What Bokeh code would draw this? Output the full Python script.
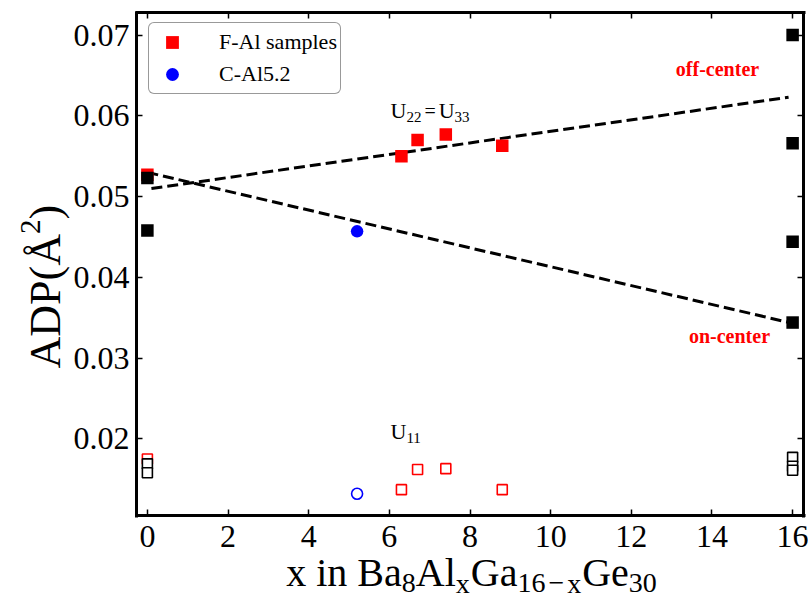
import math
from bokeh.plotting import figure
from bokeh.models import Range1d, LinearAxis, Label, Legend, LegendItem, FixedTicker
from bokeh.embed import file_html
from bokeh.resources import INLINE

# ---------------- data ----------------
fal_x = [0.0, 6.3, 6.7, 7.4, 8.8]
fal_u22 = [0.0527, 0.0550, 0.0570, 0.0577, 0.0563]
fal_u11 = [0.0175, 0.0137, 0.0162, 0.0163, 0.0137]

cal_x = [5.2]
cal_u22 = [0.0457]
cal_u11 = [0.0132]

ref_x = [0.0, 0.0, 16.0, 16.0, 16.0, 16.0]
ref_u22 = [0.0523, 0.0458, 0.0700, 0.0566, 0.0444, 0.0344]
ref_u11_x = [0.0, 0.0, 16.0, 16.0, 16.0]
ref_u11 = [0.0169, 0.0158, 0.0177, 0.0166, 0.0161]

off_fit_x = [0.1, 15.9]
off_fit_y = [0.0510, 0.0623]
on_fit_x = [0.0, 16.0]
on_fit_y = [0.0530, 0.0343]

x_ticks = [0, 2, 4, 6, 8, 10, 12, 14, 16]
y_ticks = [0.02, 0.03, 0.04, 0.05, 0.06, 0.07]
y_tick_labels = {0.02: "0.02", 0.03: "0.03", 0.04: "0.04",
                 0.05: "0.05", 0.06: "0.06", 0.07: "0.07"}

# ---------------- layout ----------------
W, H = 808, 599
FL, FR, FT, FB = 136, 803, 12, 515          # visible box in pixels
XR0, XR1 = -0.27, 16.27                      # visible box in data
YR0, YR1 = 0.0105, 0.0728
FONT = "Liberation Serif"

dxp = (XR1 - XR0) / (FR - FL)
dyp = (YR1 - YR0) / (FB - FT)
XF0, XF1 = XR0 - FL * dxp, XR1 + (W - FR) * dxp
YF0, YF1 = YR0 - (H - FB) * dyp, YR1 + FT * dyp

p = figure(width=W, height=H, output_backend="svg", toolbar_location=None,
           x_range=Range1d(XF0, XF1), y_range=Range1d(YF0, YF1),
           x_axis_location=None, y_axis_location=None,
           min_border=0, min_border_left=0, min_border_right=0,
           min_border_top=0, min_border_bottom=0)
p.grid.visible = False
p.outline_line_color = None
p.background_fill_color = "white"
p.border_fill_color = "white"

xb = (XR0 - 1.5 * dxp, XR1 + 1.5 * dxp)
yb = (YR0 - 1.5 * dyp, YR1 + 1.5 * dyp)

def make_axis(ticks, loc, bounds, labels=True, overrides=None):
    ax = LinearAxis(fixed_location=loc, bounds=bounds)
    ax.ticker = FixedTicker(ticks=ticks)
    ax.axis_line_width = 3
    ax.axis_line_color = "black"
    ax.major_tick_in = 6
    ax.major_tick_out = 0
    ax.major_tick_line_width = 1.5
    ax.minor_tick_in = 0
    ax.minor_tick_out = 0
    ax.major_label_text_font = FONT
    ax.major_label_text_color = "black"
    ax.major_label_text_font_size = "32px"
    if labels:
        if overrides:
            ax.major_label_overrides = overrides
    else:
        ax.major_label_overrides = {t: "" for t in ticks}
    return ax

bottom = make_axis(x_ticks, YR0, xb)
bottom.major_label_standoff = 10
p.add_layout(bottom, "below")
left = make_axis(y_ticks, XR0, yb, overrides=y_tick_labels)
left.major_label_standoff = 7
p.add_layout(left, "left")
p.add_layout(make_axis(x_ticks, YR1, xb, labels=False), "above")
p.add_layout(make_axis(y_ticks, XR1, yb, labels=False), "right")

# ---------------- fit lines ----------------
p.line(off_fit_x, off_fit_y, line_color="black", line_width=3, line_dash="11 5")
p.line(on_fit_x, on_fit_y, line_color="black", line_width=3, line_dash="11 5")

# ---------------- markers ----------------
p.scatter(fal_x, fal_u11, marker="square", size=10, fill_color=None,
          line_color="red", line_width=1.6)
p.scatter(ref_u11_x, ref_u11, marker="square", size=10, fill_color="white",
          line_color="black", line_width=1.6)
p.scatter(cal_x, cal_u11, marker="circle", size=11, fill_color=None,
          line_color="blue", line_width=1.6)

r_fal = p.scatter(fal_x, fal_u22, marker="square", size=12.5, fill_color="red",
                  line_color=None)
p.scatter(ref_x, ref_u22, marker="square", size=12.5, fill_color="black",
          line_color=None)
r_cal = p.scatter(cal_x, cal_u22, marker="circle", size=12.5, fill_color="blue",
                  line_color=None)

legend = Legend(items=[LegendItem(label="F-Al samples", renderers=[r_fal]),
                       LegendItem(label="C-Al5.2", renderers=[r_cal])],
                location=(FL + 12, H - FT - 12 - 70), margin=0, padding=3, spacing=0,
                glyph_width=40, glyph_height=32, label_height=32,
                label_standoff=27,
                label_text_font=FONT, label_text_font_size="22px",
                label_text_color="black",
                border_line_color="#333333", border_line_width=1.5,
                background_fill_color="white", background_fill_alpha=1.0)
try:
    legend.border_radius = 6
except Exception:
    pass
p.add_layout(legend)

# ---------------- text helpers ----------------
CW = {'x': 0.5, ' ': 0.25, 'i': 0.278, 'n': 0.5, 'B': 0.667, 'a': 0.444,
      'A': 0.722, 'l': 0.278, 'G': 0.722, 'e': 0.444, '−': 0.564, 'U': 0.722,
      '=': 0.564, 'D': 0.722, 'P': 0.556, '(': 0.333, ')': 0.333, 'Å': 0.722}
MID = 0.33   # distance from alphabetic baseline to the em-box middle, in em

def tw(s, size):
    return sum(CW.get(c, 0.5) for c in s) * size

def X(px):
    return XF0 + px * dxp

def Y(py):
    return YF1 - py * dyp

def add_label(px, py, text, size, color="black", bold=False, align="left",
              baseline="middle", angle=0.0, xo=0.0, yo=0.0):
    p.add_layout(Label(x=X(px), y=Y(py), x_units="data", y_units="data",
                       text=text, text_font=FONT, text_font_size=f"{size}px",
                       text_color=color,
                       text_font_style="bold" if bold else "normal",
                       text_align=align, text_baseline=baseline,
                       angle=angle, x_offset=xo, y_offset=yo))

def pieces_width(pieces):
    return sum(tw(t, s) + g for t, s, _, g in pieces)

def compose(pieces, px0, py_base):
    """pieces: (text, size, drop, gap_after), left to right on a baseline."""
    adv = 0.0
    for text, size, drop, gap in pieces:
        add_label(px0, py_base, text, size, xo=adv, yo=-drop + MID * size)
        adv += tw(text, size) + gap

def compose_vertical(pieces, px_base, py0):
    """text rotated 90deg CCW; rise>0 moves away from the baseline."""
    adv = 0.0
    for text, size, rise, gap in pieces:
        add_label(px_base, py0, text, size, angle=math.pi / 2,
                  xo=-rise - MID * size, yo=adv)
        adv += tw(text, size) + gap

# x-axis title
M, S, D = 40, 28, 7
xt = [("x in Ba", M, 0, 0), ("8", S, D, 0), ("Al", M, 0, 0), ("x", S, D, 1),
      ("Ga", M, 0, 0), ("16", S, D, 3), ("−", S, D, 3), ("x", S, D, 1),
      ("Ge", M, 0, 0), ("30", S, D, 0)]
compose(xt, 471 - pieces_width(xt) / 2, 585)

# y-axis title
compose_vertical([("ADP(Å", 44, 0, 0), ("2", 29, 20, 0), (")", 44, 0, 0)], 60, 368)

# in-plot annotations
compose([("U", 22, 0, 0), ("22", 15, 4, 3), ("=", 20, 0, 3), ("U", 22, 0, 0),
         ("33", 15, 4, 0)], 390, 117)
compose([("U", 22, 0, 0), ("11", 15, 4, 0)], 390, 438)
add_label(717, 68, "off-center", 20, color="red", bold=True, align="center")
add_label(729, 335, "on-center", 20, color="red", bold=True, align="center")

open("out.html", "w").write(file_html(p, INLINE))
